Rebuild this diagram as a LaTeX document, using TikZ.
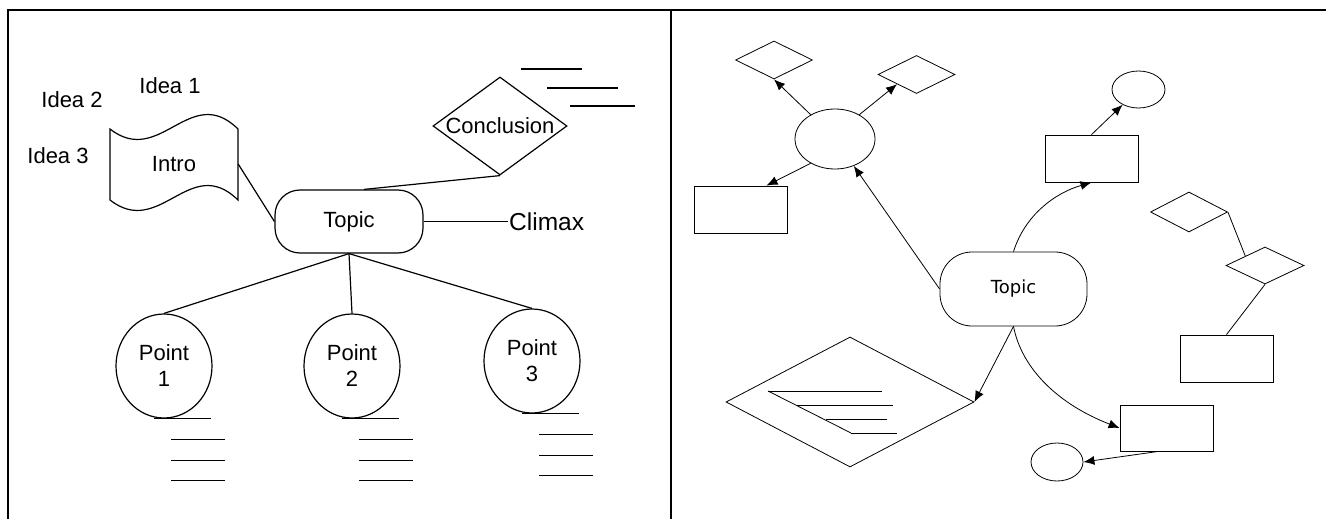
\documentclass[tikz,border=0pt]{standalone}
\usepackage{fontspec}
\setmainfont{Liberation Sans}
\newfontfamily\dejavu{DejaVu Sans}
\usetikzlibrary{arrows.meta,positioning,shapes.geometric}

\begin{document}
\begin{tikzpicture}[
    x=1pt,
    y=-1pt,
    frame/.style={
      line width=2pt,
    },
    outline/.style={
      draw,
      line width=1.2pt,
      inner sep=0,
    },
    thin/.style={
      draw,
      line width=.8pt,
      inner sep=0,
    },
    plaintext/.style={
      inner sep=0,
      font=\fontsize{22}{26}\selectfont,
    },
    topicbox/.style={
      outline,
      rectangle,
      rounded corners=25pt,
      minimum width=148pt,
      minimum height=63pt,
      font=\fontsize{22}{26}\selectfont,
    },
    pointbubble/.style={
      outline,
      ellipse,
      minimum width=96pt,
      minimum height=104pt,
      align=center,
      font=\fontsize{22}{26}\selectfont,
    },
    noteline/.style={
      line width=1.2pt,
    },
    link/.style={
      line width=1.2pt,
    },
    box/.style={
      thin,
      rectangle,
      minimum width=93pt,
      minimum height=47pt,
    },
    rhomb/.style={
      thin,
      diamond,
      minimum width=77pt,
      minimum height=38pt,
    },
    oval/.style={
      thin,
      ellipse,
      minimum width=53pt,
      minimum height=37pt,
    },
    arrowline/.style={
      line width=.8pt,
      -{Latex[length=11pt,width=9pt]},
    },
  ]
    \useasboundingbox (0,0) rectangle (1326,519);
    \newcommand\notelines[1]{%
      \draw[noteline] ([xshift=-10pt]#1.south) -- ++(57,0);
      \foreach \dy in {21,42,62}
        \draw[noteline] ([xshift=7pt,yshift=-\dy pt]#1.south) -- ++(54,0);
    }

    % frame
    \draw[frame] (8,519) -- (8,10) -- (1326,10);
    \draw[frame] (671,10) -- (671,519);

    % left panel
    \node[plaintext] (idea1) at (170,86) {Idea 1};
    \node[plaintext] (idea2) at (72,100) {Idea 2};
    \node[plaintext] (idea3) at (58,156) {Idea 3};

    \node[plaintext,minimum width=128pt,minimum height=71pt] (intro) at (174,164) {Intro};
    \draw[line width=1.2pt]
      (110,129) .. controls (160,168) and (190,82) .. (238,129) -- (238,200)
      .. controls (190,153) and (160,239) .. (110,200) -- cycle;

    \node[topicbox] (topic) at (349,221.5) {Topic};
    \node[outline,diamond,shape aspect=1.37,inner sep=-2pt,minimum width=134pt,
      minimum height=98pt,font=\fontsize{22}{26}\selectfont] (conclusion) at (500,126) {Conclusion};
    \node[plaintext,anchor=west,inner sep=1pt,font=\fontsize{24.5}{28}\selectfont]
      (climax) at (508,221.5) {Climax};

    \draw[line width=1.2pt] (521,69) -- (582,69);
    \draw[line width=1.2pt] (547,88) -- (618,88);
    \draw[line width=1.2pt] (570,106) -- (635,106);

    \node[pointbubble] (point1) at (164,366) {Point\\1};
    \node[pointbubble] (point2) at (352,366) {Point\\2};
    \node[pointbubble] (point3) at (532,361) {Point\\3};

    \draw[link] (intro.east) -- (topic.west);
    \draw[link] (conclusion.south) -- ([xshift=15pt]topic.north);
    \draw[link] (topic.east) -- (climax.west);
    \draw[link] (topic.south) -- (point1.north);
    \draw[link] (topic.south) -- (point2.north);
    \draw[link] (topic.south) -- (point3.north);

    \notelines{point1}
    \notelines{point2}
    \notelines{point3}

    % right panel
    \node[thin,rectangle,rounded corners=32pt,minimum width=147pt,minimum height=74pt,
      font=\dejavu\fontsize{18}{22}\selectfont] (hub) at (1013.5,289) {Topic};

    \node[oval,minimum width=80pt,minimum height=60pt] (bubble) at (835,139) {};
    \node[rhomb] (leafnw) at (774,60) {};
    \node[rhomb] (leafne) at (916.5,74.5) {};
    \node[box] (leafw) at (740.5,209.5) {};

    \node[box] (branchn) at (1091.5,158.5) {};
    \node[oval] (tipn) at (1138.5,89.5) {};

    \node[rhomb,minimum height=40pt] (chainup) at (1189,212) {};
    \node[rhomb,minimum width=78pt,minimum height=37pt] (chainmid) at (1265,265.5) {};
    \node[box] (chainbox) at (1226.5,358.5) {};

    \node[box,minimum height=46pt] (branchs) at (1166.5,428) {};
    \node[oval,minimum width=52pt,minimum height=38pt] (tips) at (1057,462) {};

    \node[thin,diamond,minimum width=248pt,minimum height=130pt] (memo) at (850,402) {};
    \draw[line width=.8pt] (768,391) -- (851,433);
    \draw[line width=.8pt] (768,391) -- (882,391);
    \draw[line width=.8pt] (797,405) -- (893,405);
    \draw[line width=.8pt] (826,419) -- (887,419);
    \draw[line width=.8pt] (851,433) -- (897,433);

    \draw[arrowline] (hub.west) -- (bubble);
    \draw[arrowline] (bubble.135) -- (leafnw.south);
    \draw[arrowline] (bubble.45) -- (leafne.south west);
    \draw[arrowline] (bubble.225) -- ([xshift=26pt]leafw.north);

    \draw[arrowline] (hub.north) .. controls (1025,215) and (1055,193) .. (branchn.south);
    \draw[arrowline] (branchn.north) -- (tipn);

    \draw[line width=.8pt] (chainup.east) -- (chainmid.north west);
    \draw[line width=.8pt] (chainmid.south) -- (chainbox.north);

    \draw[arrowline] (hub.south) -- (memo.east);
    \draw[arrowline] (hub.south) .. controls (1022,370) and (1060,405) .. (branchs.west);
    \draw[arrowline] ([xshift=-8pt]branchs.south) -- (tips.east);
  \end{tikzpicture}
\end{document}
